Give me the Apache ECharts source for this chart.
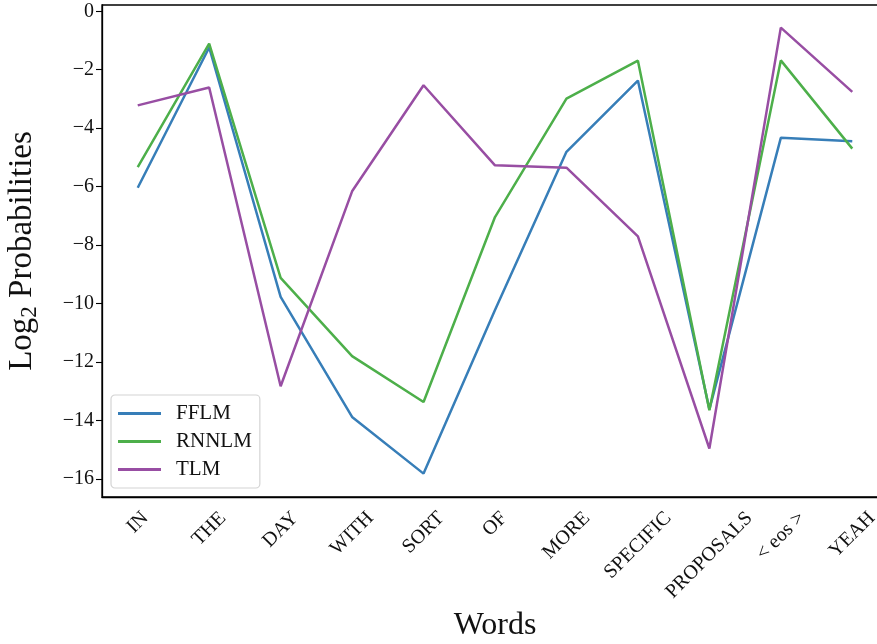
<!DOCTYPE html>
<html>
<head>
<meta charset="utf-8">
<script src="https://cdn.jsdelivr.net/npm/echarts@6/dist/echarts.min.js"></script>
<style>
  html, body { margin: 0; padding: 0; background: #fff; overflow: hidden; }
  /* the plot frame runs a little past the page's right edge */
  #chart { width: 892px; height: 644px; }
</style>
</head>
<body>
<div id="chart"></div>
<script>
// Words of the utterance, in order
const words = ['IN', 'THE', 'DAY', 'WITH', 'SORT', 'OF', 'MORE', 'SPECIFIC', 'PROPOSALS', '< eos >', 'YEAH'];

// Per-word log2 probabilities for each language model
const fflm  = [-6.04, -1.24, -9.77, -13.88, -15.82, -10.22, -4.81, -2.37, -13.62, -4.33, -4.45];
const rnnlm = [-5.33, -1.11, -9.12, -11.80, -13.37, -7.04, -2.99, -1.69, -13.65, -1.68, -4.70];
const tlm   = [-3.22, -2.61, -12.83, -6.16, -2.53, -5.27, -5.35, -7.70, -14.96, -0.56, -2.76];

// Y-axis tick values
const yTicks = [0, -2, -4, -6, -8, -10, -12, -14, -16];

const serif = '"Liberation Serif", "DejaVu Serif", serif';
const xLabelSize = 20;

// Rotated x labels are centred under their tick with their bounding box hanging
// below the axis. Each label is centre-anchored, then padded by half of its
// (width + height) on the top and right so its box drops down into place.
const measure = document.createElement('canvas').getContext('2d');
measure.font = xLabelSize + 'px ' + serif;
const xLabelRich = {};
words.forEach((w, i) => {
  const pad = (measure.measureText(w).width + xLabelSize) / 2;
  xLabelRich['w' + i] = {
    fontFamily: serif, fontSize: xLabelSize, lineHeight: xLabelSize, color: '#111',
    padding: [pad, pad, 0, 0]
  };
});

const chart = echarts.init(document.getElementById('chart'), null, { renderer: 'canvas' });

const lineSeries = (name, data, color) => ({
  name, type: 'line', data,
  symbol: 'none',
  lineStyle: { color, width: 2.5 },
  itemStyle: { color },
  emphasis: { disabled: true },
  animation: false
});

chart.setOption({
  backgroundColor: '#fff',
  animation: false,
  grid: {
    left: 102, top: 5, width: 786, height: 492,
    outerBoundsMode: 'none',
    containLabel: false,
    show: true, borderColor: '#000', borderWidth: 1.3,
    backgroundColor: 'transparent'
  },
  legend: {
    orient: 'vertical',
    left: 111, top: 395,
    data: ['FFLM', 'RNNLM', 'TLM'],
    icon: 'rect',
    itemWidth: 43, itemHeight: 3,
    itemGap: 7,
    padding: [8, 8, 8, 7],
    borderColor: '#d4d4d4', borderWidth: 1.2, borderRadius: 4,
    backgroundColor: 'rgba(255,255,255,0.8)',
    textStyle: { fontFamily: serif, fontSize: 21, color: '#111', padding: [0, 0, 0, 10] }
  },
  xAxis: {
    type: 'category',
    data: words,
    boundaryGap: true,
    name: 'Words',
    nameLocation: 'middle',
    nameGap: 112,
    nameTextStyle: { fontFamily: serif, fontSize: 32, color: '#111' },
    axisLine: { onZero: false, lineStyle: { color: '#000', width: 1.3 } },
    axisTick: { alignWithLabel: true, length: 6, lineStyle: { color: '#000', width: 1.1 } },
    axisLabel: {
      interval: 0,
      rotate: 45,
      align: 'center',
      verticalAlign: 'middle',
      margin: 11,
      hideOverlap: false,
      formatter: (v, i) => '{w' + i + '|' + v + '}',
      rich: xLabelRich
    },
    splitLine: { show: false }
  },
  yAxis: {
    type: 'value',
    min: -16.62, max: 0.215,
    name: '{a|Log}{s|2}{a| Probabilities}',
    nameLocation: 'middle',
    nameGap: 61,
    nameRotate: 90,
    nameTextStyle: {
      rich: {
        a: { fontFamily: serif, fontSize: 33, color: '#111' },
        s: { fontFamily: serif, fontSize: 23, color: '#111', verticalAlign: 'bottom', padding: [14, 0, 0, 0] }
      }
    },
    axisLine: { show: true, lineStyle: { color: '#000', width: 1.3 } },
    axisTick: { show: true, length: 6, customValues: yTicks, lineStyle: { color: '#000', width: 1.1 } },
    axisLabel: {
      customValues: yTicks,
      fontFamily: serif, fontSize: 20, color: '#111', margin: 8,
      formatter: v => (v < 0 ? '\u2212' + Math.abs(v) : String(v))
    },
    splitLine: { show: false }
  },
  series: [
    lineSeries('FFLM', fflm, '#377eb8'),
    lineSeries('RNNLM', rnnlm, '#4daf4a'),
    lineSeries('TLM', tlm, '#984ea3')
  ]
});
</script>
</body>
</html>
